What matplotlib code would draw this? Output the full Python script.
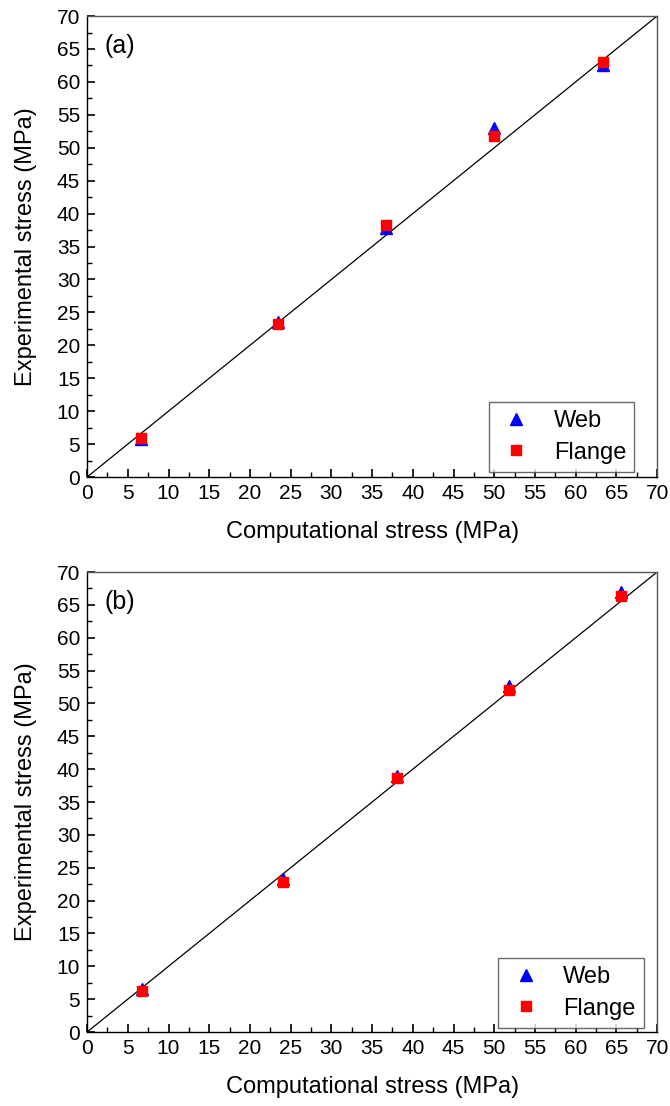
import matplotlib
matplotlib.use("Agg")
import matplotlib.pyplot as plt
from matplotlib.ticker import MultipleLocator

plt.rcParams['font.family'] = ['Liberation Sans', 'DejaVu Sans']

# panel (a)
comp_a = [6.6, 23.4, 36.7, 50.0, 63.3]
web_a = [5.8, 23.5, 37.8, 53.0, 62.6]
flange_a = [6.0, 23.3, 38.3, 51.8, 63.0]

# panel (b)
comp_b = [6.8, 24.1, 38.0, 51.8, 65.6]
web_b = [6.5, 23.3, 39.0, 52.6, 67.0]
flange_b = [6.2, 22.9, 38.7, 52.0, 66.3]

panels = [
    ("(a)", comp_a, web_a, flange_a, [0.130, 0.5687, 0.8507, 0.4168], (0.96, 0.011)),
    ("(b)", comp_b, web_b, flange_b, [0.130, 0.0669, 0.8507, 0.4159], (0.977, 0.009)),
]

fig = plt.figure(figsize=(6.7, 11.06), dpi=100)
for tag, comp, web, flange, pos, anchor in panels:
    ax = fig.add_axes(pos)
    ax.plot([0, 70], [0, 70], color='black', lw=0.9)
    ax.plot(comp, web, ls='none', marker='^', ms=9, color='blue', label='Web')
    ax.plot(comp, flange, ls='none', marker='s', ms=7.5, color='red', label='Flange')
    ax.set_xlim(0, 70)
    ax.set_ylim(0, 70)
    ax.xaxis.set_major_locator(MultipleLocator(5))
    ax.yaxis.set_major_locator(MultipleLocator(5))
    ax.xaxis.set_minor_locator(MultipleLocator(2.5))
    ax.yaxis.set_minor_locator(MultipleLocator(2.5))
    ax.tick_params(which='both', direction='in', top=False, right=False, labelsize=15)
    ax.tick_params(which='major', length=6, width=1.2, pad=5)
    ax.tick_params(which='minor', length=3.5, width=1)
    for s in ax.spines.values():
        s.set_linewidth(1)
    ax.spines['top'].set_color('#555555')
    ax.spines['right'].set_color('#555555')
    ax.set_xlabel('Computational stress (MPa)', fontsize=17, labelpad=13)
    ax.set_ylabel('Experimental stress (MPa)', fontsize=17, labelpad=14)
    ax.text(0.03, 0.96, tag, transform=ax.transAxes, fontsize=18, va='top', ha='left')
    ax.legend(loc='lower right', fontsize=17, frameon=True, fancybox=False,
              edgecolor='#444444', handletextpad=0.8, borderpad=0.35,
              labelspacing=0.4, handlelength=1.6, borderaxespad=0,
              bbox_to_anchor=anchor)

fig.savefig('out.png', dpi=100)
